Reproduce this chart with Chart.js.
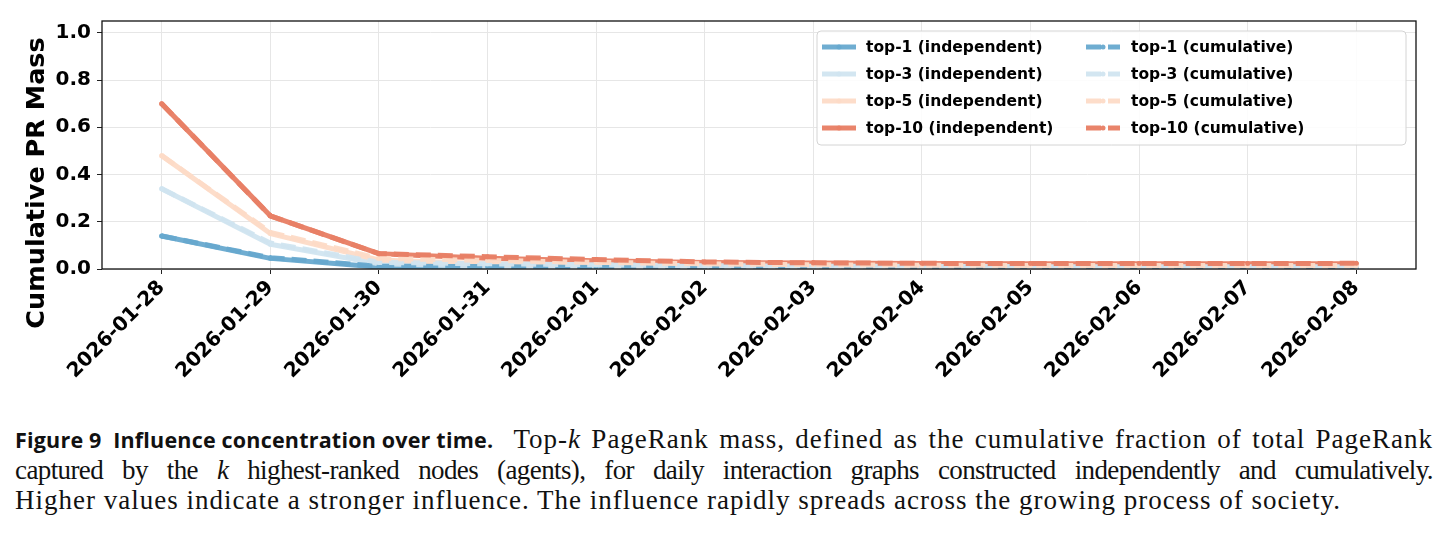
<!DOCTYPE html>
<html>
<head>
<meta charset="utf-8">
<script src="https://cdn.jsdelivr.net/npm/chart.js@4.4.1/dist/chart.umd.min.js"></script>
<style>
  html, body { margin: 0; padding: 0; background: #fff; }
  #wrap { position: relative; width: 1447px; height: 534px; overflow: hidden; }
  #c { position: absolute; left: 0; top: 0; }
  #cap { position: absolute; left: 15px; top: 424px; width: 1418px; font-family: "Liberation Serif", serif; font-size: 27px; letter-spacing: 1px; line-height: 30px; color: #111; }
  #cap .j { text-align: justify; text-align-last: justify; }
  #cap .j2 { letter-spacing: -0.6px; }
  #cap .l { text-align: left; white-space: nowrap; }
  #cap .lab { display: inline-block; font-family: "Open Sans", sans-serif; font-weight: 700; font-size: 21.5px; letter-spacing: 0.2px; }
</style>
</head>
<body>
<div id="wrap">
  <canvas id="c" width="1447" height="400"></canvas>
  <div id="cap">
    <div class="j"><span class="lab">Figure 9&nbsp;&nbsp;Influence concentration over time.</span>&nbsp; Top-<i>k</i> PageRank mass, defined as the cumulative fraction of total PageRank</div>
    <div class="j j2">captured by the <i>k</i> highest-ranked nodes (agents), for daily interaction graphs constructed independently and cumulatively.</div>
    <div class="l">Higher values indicate a stronger influence. The influence rapidly spreads across the growing process of society.</div>
  </div>
</div>
<script>
const dates = ["2026-01-28","2026-01-29","2026-01-30","2026-01-31","2026-02-01","2026-02-02","2026-02-03","2026-02-04","2026-02-05","2026-02-06","2026-02-07","2026-02-08"];
const yTicks = [0.0, 0.2, 0.4, 0.6, 0.8, 1.0];

const top1Ind  = [0.140, 0.045, 0.008, 0.006, 0.004, 0.003, 0.002, 0.002, 0.002, 0.002, 0.002, 0.002];
const top3Ind  = [0.340, 0.105, 0.022, 0.012, 0.010, 0.008, 0.007, 0.006, 0.006, 0.006, 0.006, 0.006];
const top5Ind  = [0.480, 0.150, 0.038, 0.022, 0.018, 0.015, 0.014, 0.013, 0.013, 0.013, 0.013, 0.013];
const top10Ind = [0.700, 0.225, 0.065, 0.045, 0.035, 0.028, 0.025, 0.023, 0.022, 0.022, 0.022, 0.022];

const top1Cum  = [0.140, 0.048, 0.012, 0.010, 0.007, 0.005, 0.004, 0.003, 0.003, 0.003, 0.003, 0.003];
const top3Cum  = [0.340, 0.110, 0.028, 0.022, 0.018, 0.014, 0.012, 0.011, 0.010, 0.010, 0.010, 0.010];
const top5Cum  = [0.480, 0.155, 0.045, 0.036, 0.028, 0.022, 0.018, 0.016, 0.015, 0.015, 0.015, 0.015];
const top10Cum = [0.700, 0.225, 0.065, 0.052, 0.040, 0.030, 0.026, 0.024, 0.023, 0.023, 0.023, 0.024];

const seriesLabels = ["top-1 (independent)","top-3 (independent)","top-5 (independent)","top-10 (independent)",
                      "top-1 (cumulative)","top-3 (cumulative)","top-5 (cumulative)","top-10 (cumulative)"];
const seriesData = [top1Ind, top3Ind, top5Ind, top10Ind, top1Cum, top3Cum, top5Cum, top10Cum];
const palette = ["rgba(103,169,207,0.95)","rgba(209,229,240,0.95)","rgba(253,219,199,0.95)","rgba(232,128,102,0.97)"];
const DASH = [15, 7];

const datasets = seriesData.map((arr, i) => ({
  label: seriesLabels[i],
  data: arr.map((v, j) => ({x: j, y: v})),
  borderColor: palette[i % 4],
  backgroundColor: palette[i % 4],
  borderWidth: 5,
  borderDash: i >= 4 ? DASH : [],
  pointRadius: 2.5,
  pointBorderWidth: 0,
  pointBackgroundColor: palette[i % 4],
  tension: 0,
  fill: false,
  order: 8 - i,
  borderCapStyle: 'butt',
  borderJoinStyle: 'round'
}));

const tickFont = {family: "'DejaVu Sans', sans-serif", weight: 'bold', size: 20};

const framePlugin = {
  id: 'frame',
  afterDatasetsDraw(chart) {
    const {ctx, chartArea: a} = chart;
    ctx.save();
    ctx.strokeStyle = '#111';
    ctx.lineWidth = 1.3;
    ctx.strokeRect(a.left, a.top, a.right - a.left, a.bottom - a.top);
    ctx.restore();
  }
};

const yTitlePlugin = {
  id: 'ytitle',
  afterDraw(chart) {
    const ctx = chart.ctx;
    ctx.save();
    ctx.translate(37, 183);
    ctx.rotate(-Math.PI / 2);
    ctx.font = "bold 25.5px 'DejaVu Sans', sans-serif";
    ctx.fillStyle = '#000';
    ctx.textAlign = 'center';
    ctx.textBaseline = 'middle';
    ctx.fillText('Cumulative PR Mass', 0, 0);
    ctx.restore();
  }
};

const legendPlugin = {
  id: 'customLegend',
  afterDatasetsDraw(chart) {
    const ctx = chart.ctx;
    const bx = 817, by = 31, bw = 589, bh = 114;
    ctx.save();
    ctx.beginPath();
    ctx.roundRect(bx, by, bw, bh, 4);
    ctx.fillStyle = 'rgba(255,255,255,0.85)';
    ctx.fill();
    ctx.strokeStyle = '#d4d4d4';
    ctx.lineWidth = 1;
    ctx.stroke();
    ctx.font = "bold 15.5px 'DejaVu Sans', sans-serif";
    ctx.textBaseline = 'middle';
    ctx.textAlign = 'left';
    const cols = [{lx: 822, tx: 866}, {lx: 1086, tx: 1131}];
    chart.data.datasets.forEach((ds, i) => {
      const col = cols[Math.floor(i / 4)];
      const y = 47 + (i % 4) * 27;
      ctx.strokeStyle = ds.borderColor;
      ctx.lineWidth = 5;
      ctx.setLineDash(ds.borderDash || []);
      ctx.lineCap = 'butt';
      ctx.beginPath();
      ctx.moveTo(col.lx, y);
      ctx.lineTo(col.lx + 34, y);
      ctx.stroke();
      ctx.setLineDash([]);
      ctx.fillStyle = ds.borderColor;
      ctx.beginPath();
      ctx.arc(col.lx + 17, y, 2.5, 0, Math.PI * 2);
      ctx.fill();
      ctx.fillStyle = '#000';
      ctx.fillText(ds.label, col.tx, y + 1);
    });
    ctx.restore();
  }
};

new Chart(document.getElementById('c'), {
  type: 'line',
  data: {datasets},
  plugins: [framePlugin, legendPlugin, yTitlePlugin],
  options: {
    responsive: false,
    animation: false,
    devicePixelRatio: 1,
    layout: {padding: {top: 21, right: 31, left: 0, bottom: 0}},
    plugins: {legend: {display: false}, tooltip: {enabled: false}},
    scales: {
      x: {
        type: 'linear',
        min: -0.55,
        max: 11.55,
        afterBuildTicks(scale) { scale.ticks = dates.map((d, i) => ({value: i})); },
        afterFit(scale) { scale.height = 131; },
        border: {display: false},
        grid: {color: '#e6e6e6', lineWidth: 1, drawTicks: true, tickLength: 5, tickColor: '#222'},
        ticks: {
          autoSkip: false,
          minRotation: 45,
          maxRotation: 45,
          padding: 2,
          color: '#000',
          font: tickFont,
          callback: (v) => dates[v] !== undefined ? dates[v] : ''
        }
      },
      y: {
        min: 0,
        max: 1.05,
        afterBuildTicks(scale) { scale.ticks = yTicks.map(v => ({value: v})); },
        afterFit(scale) { scale.width = 102; },
        border: {display: false},
        grid: {color: '#e6e6e6', lineWidth: 1, drawTicks: true, tickLength: 5, tickColor: '#222'},
        ticks: {
          padding: 6,
          color: '#000',
          font: tickFont,
          callback: (v) => Number(v).toFixed(1)
        }
      }
    }
  }
});
</script>
</body>
</html>
